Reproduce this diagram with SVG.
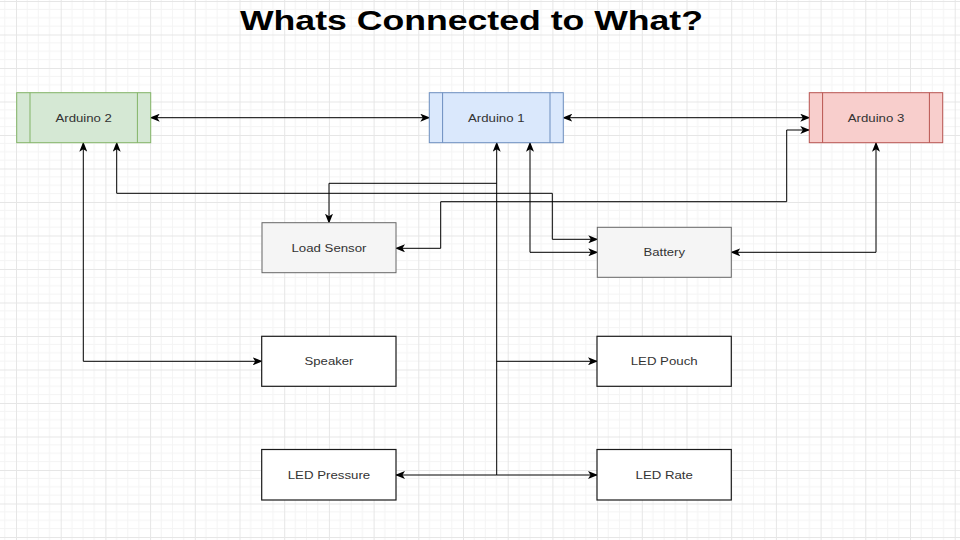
<svg xmlns="http://www.w3.org/2000/svg" width="960" height="540" viewBox="0 0 960 540">
<defs>
<pattern id="grid" patternUnits="userSpaceOnUse" x="16" y="1" width="44.7" height="33.5">
<path d="M11.175,0 V33.5 M22.35,0 V33.5 M33.525,0 V33.5 M0,8.375 H44.7 M0,16.75 H44.7 M0,25.125 H44.7" stroke="#f4f4f4" stroke-width="1" fill="none"/>
<path d="M0.5,0 V33.5 M0,0.5 H44.7" stroke="#e6e6e6" stroke-width="1" fill="none"/>
</pattern>
<marker id="arr" viewBox="0 0 10 8" refX="9" refY="4" markerWidth="10" markerHeight="8" markerUnits="userSpaceOnUse" orient="auto-start-reverse">
<path d="M0,0 L10,4 L0,8 L2.5,4 z" fill="#000"/>
</marker>
</defs>
<style>
.lbl{font-family:"Liberation Sans",Arial,sans-serif;font-size:11px;fill:#333333;text-anchor:middle}
.title{font-family:"Liberation Sans",Arial,sans-serif;font-size:28px;font-weight:bold;fill:#000;text-anchor:middle}
.edge{fill:none;stroke:#000;stroke-width:1}
.plain{fill:#fff;stroke:#1a1a1a;stroke-width:1.2}
.gray{fill:#f5f5f5;stroke:#666666;stroke-width:1}
</style>
<rect width="960" height="540" fill="#fff"/>
<rect width="960" height="540" fill="url(#grid)"/>

<text class="title" x="471.5" y="30" textLength="463" lengthAdjust="spacingAndGlyphs">Whats Connected to What?</text>

<g id="connectors">
<path class="edge" d="M150.7,117.7 H429.3" marker-start="url(#arr)" marker-end="url(#arr)"/>
<path class="edge" d="M563.3,117.7 H809.3" marker-start="url(#arr)" marker-end="url(#arr)"/>
<path class="edge" d="M83.3,142.7 V361.3 H261.7" marker-start="url(#arr)" marker-end="url(#arr)"/>
<path class="edge" d="M116.7,142.7 V193.3 H552.3 V239.3 H597.3" marker-start="url(#arr)" marker-end="url(#arr)"/>
<path class="edge" d="M496.7,142.7 V475 H396" marker-start="url(#arr)" marker-end="url(#arr)"/>
<path class="edge" d="M496.7,475 H597" marker-end="url(#arr)"/>
<path class="edge" d="M496.7,361.3 H597" marker-end="url(#arr)"/>
<path class="edge" d="M496.7,183.3 H329 V222.7" marker-end="url(#arr)"/>
<path class="edge" d="M530,142.7 V252.3 H597.3" marker-start="url(#arr)" marker-end="url(#arr)"/>
<path class="edge" d="M876,142.7 V252.3 H731.3" marker-start="url(#arr)" marker-end="url(#arr)"/>
<path class="edge" d="M396,248.3 H440.7 V201.7 H786.7 V130 H809.3" marker-start="url(#arr)" marker-end="url(#arr)"/>
</g>

<g id="arduino2">
<rect x="16.7" y="92.7" width="134" height="50" fill="#d5e8d4" stroke="#82b366"/>
<path d="M30,92.7 V142.7 M137.4,92.7 V142.7" stroke="#82b366" fill="none"/>
<text class="lbl" x="83.7" y="121.5" textLength="56.5" lengthAdjust="spacingAndGlyphs">Arduino 2</text>
</g>
<g id="arduino1">
<rect x="429.3" y="92.7" width="134" height="50" fill="#dae8fc" stroke="#6c8ebf"/>
<path d="M442.6,92.7 V142.7 M550,92.7 V142.7" stroke="#6c8ebf" fill="none"/>
<text class="lbl" x="496.3" y="121.5" textLength="56.5" lengthAdjust="spacingAndGlyphs">Arduino 1</text>
</g>
<g id="arduino3">
<rect x="809.3" y="92.7" width="133.4" height="50" fill="#f8cecc" stroke="#b85450"/>
<path d="M822.6,92.7 V142.7 M929.4,92.7 V142.7" stroke="#b85450" fill="none"/>
<text class="lbl" x="876" y="121.5" textLength="56.5" lengthAdjust="spacingAndGlyphs">Arduino 3</text>
</g>
<g id="load-sensor">
<rect class="gray" x="262" y="222.7" width="134" height="50"/>
<text class="lbl" x="329" y="251.5" textLength="75" lengthAdjust="spacingAndGlyphs">Load Sensor</text>
</g>
<g id="battery">
<rect class="gray" x="597.3" y="227.3" width="134" height="50"/>
<text class="lbl" x="664.3" y="256.2" textLength="41.5" lengthAdjust="spacingAndGlyphs">Battery</text>
</g>
<g id="speaker">
<rect class="plain" x="261.7" y="336.3" width="134.3" height="50"/>
<text class="lbl" x="329" y="365.2" textLength="49" lengthAdjust="spacingAndGlyphs">Speaker</text>
</g>
<g id="led-pouch">
<rect class="plain" x="597" y="336.3" width="134.3" height="50"/>
<text class="lbl" x="664.2" y="365.2" textLength="67" lengthAdjust="spacingAndGlyphs">LED Pouch</text>
</g>
<g id="led-pressure">
<rect class="plain" x="261.7" y="449.5" width="134.3" height="50.5"/>
<text class="lbl" x="329" y="478.8" textLength="82.5" lengthAdjust="spacingAndGlyphs">LED Pressure</text>
</g>
<g id="led-rate">
<rect class="plain" x="597" y="449.5" width="134.3" height="50.5"/>
<text class="lbl" x="664.2" y="478.8" textLength="57.3" lengthAdjust="spacingAndGlyphs">LED Rate</text>
</g>
</svg>
